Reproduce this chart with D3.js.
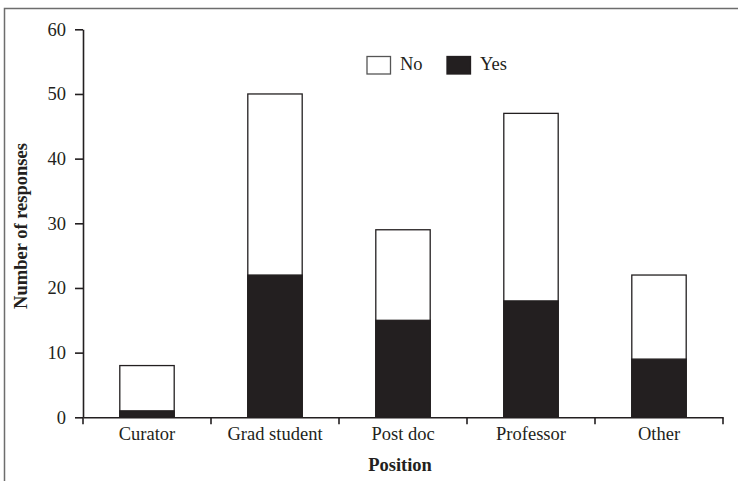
<!DOCTYPE html>
<html><head><meta charset="utf-8">
<script src="https://cdn.jsdelivr.net/npm/d3@7"></script>
<style>
html,body{margin:0;padding:0;background:#fff;}
text{font-family:"Liberation Serif","Times New Roman",serif;fill:#231f20;}
</style></head>
<body>
<svg id="chart" width="738" height="481"></svg>
<script>
const categories = ["Curator", "Grad student", "Post doc", "Professor", "Other"];
const totals = [8, 50, 29, 47, 22];
const yesValues = [1, 22, 15, 18, 9];
const yTicks = [0, 10, 20, 30, 40, 50, 60];
const seriesNames = ["No", "Yes"];

const ink = "#231f20";
const fs = 18.5;
const svg = d3.select("#chart");

// frame
svg.append("rect").attr("x", 4.5).attr("y", 8.5).attr("width", 800).attr("height", 600)
  .attr("fill", "none").attr("stroke", "#6d6d6d").attr("stroke-width", 1.5);

const x = d3.scaleBand().domain(categories).range([83, 723]).padding(0);
const y = d3.scaleLinear().domain([0, 60]).range([417.3, 29.3]);
const bw = x.bandwidth() * 0.425;

const data = categories.map((c, i) => ({c, total: totals[i], yes: yesValues[i]}));

const g = svg.append("g");
g.selectAll("rect.no").data(data).enter().append("rect")
  .attr("x", d => x(d.c) + (x.bandwidth() - bw) / 2)
  .attr("y", d => y(d.total))
  .attr("width", bw)
  .attr("height", d => y(0) - y(d.total))
  .attr("fill", "#fff").attr("stroke", ink).attr("stroke-width", 1.3);
g.selectAll("rect.yes").data(data).enter().append("rect")
  .attr("x", d => x(d.c) + (x.bandwidth() - bw) / 2)
  .attr("y", d => y(d.yes))
  .attr("width", bw)
  .attr("height", d => y(0) - y(d.yes))
  .attr("fill", ink).attr("stroke", ink).attr("stroke-width", 1.3);

// y axis
const yAxis = svg.append("g").attr("transform", "translate(83,0)")
  .call(d3.axisLeft(y).tickValues(yTicks).tickSize(8).tickPadding(9).tickSizeOuter(0));
yAxis.select(".domain").attr("stroke", ink).attr("stroke-width", 1.6);
yAxis.selectAll(".tick line").attr("stroke", ink).attr("stroke-width", 1.6);
yAxis.selectAll(".tick text").attr("font-size", fs).attr("font-family", "Liberation Serif").attr("fill", ink);

// x axis labels
const xAxis = svg.append("g").attr("transform", `translate(0,${y(0)})`)
  .call(d3.axisBottom(x).tickSize(0).tickPadding(10).tickSizeOuter(0));
xAxis.select(".domain").attr("stroke", ink).attr("stroke-width", 1.6);
xAxis.selectAll(".tick text").attr("font-size", fs).attr("font-family", "Liberation Serif").attr("fill", ink);

// boundary ticks
const bounds = categories.map(c => x(c)).concat([x.range()[1]]);
svg.append("g").selectAll("line").data(bounds).enter().append("line")
  .attr("x1", d => d).attr("x2", d => d)
  .attr("y1", y(0)).attr("y2", y(0) + 7)
  .attr("stroke", ink).attr("stroke-width", 1.6);

// axis titles
svg.append("text").attr("x", 400).attr("y", 471).attr("text-anchor", "middle")
  .attr("font-size", 18.5).attr("font-weight", "bold").text("Position");
svg.append("text").attr("transform", "translate(27,226) rotate(-90)").attr("text-anchor", "middle")
  .attr("font-size", 18.5).attr("font-weight", "bold").text("Number of responses");

// legend
const legendX = [367, 447];
const lg = svg.append("g");
seriesNames.forEach((s, i) => {
  lg.append("rect").attr("x", legendX[i]).attr("y", 56.5).attr("width", 23.5).attr("height", 17.5)
    .attr("fill", i === 0 ? "#fff" : ink).attr("stroke", i === 0 ? "#555" : ink).attr("stroke-width", 1.3);
  lg.append("text").attr("x", legendX[i] + 33).attr("y", 70).attr("font-size", fs).text(s);
});
</script>
</body></html>
